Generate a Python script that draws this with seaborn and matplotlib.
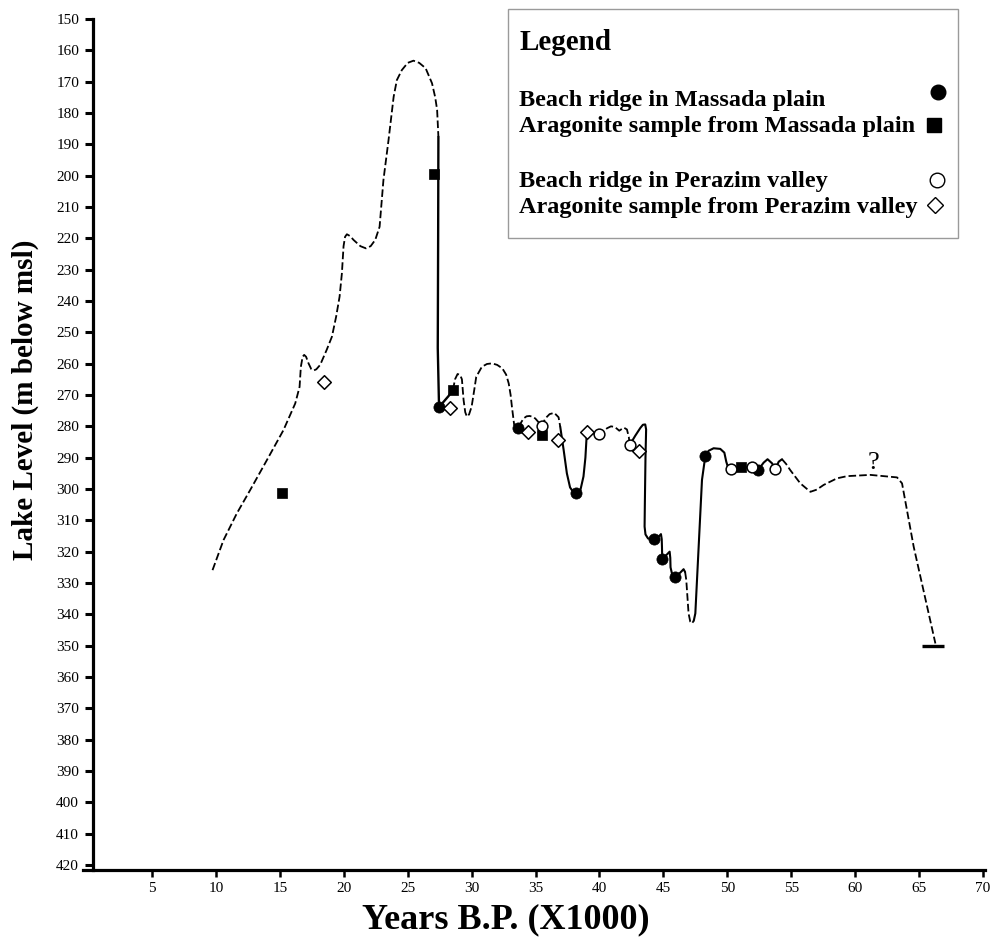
import matplotlib
matplotlib.use("Agg")
import matplotlib.pyplot as plt
import seaborn as sns
from matplotlib.lines import Line2D
from matplotlib.patches import Rectangle

# ---------------- lake-level curve (age in ka BP, level in m below msl) ----------------
# rising limb up to the highstand (inferred, dashed)
limb_rise_age = [9.73, 10.59, 11.63, 12.68, 13.98, 15.28, 16.2, 16.54, 16.64, 16.78, 16.9,
                 17.05, 17.24, 17.45, 17.63, 17.85, 18.15, 18.67, 19.07, 19.4, 19.67, 19.85,
                 19.98, 20.1, 20.24, 20.5, 20.76, 21.3, 21.73, 22.1, 22.46, 22.8, 23.1, 23.5,
                 23.9, 24.15, 24.54, 25.0, 25.45, 25.9, 26.4, 26.9, 27.15, 27.3, 27.4]
limb_rise_level = [325.9, 316.3, 307.8, 300.3, 290.8, 281.2, 272.7, 267.4, 261.0, 257.8, 257.2,
                   257.8, 259.9, 261.7, 262.2, 261.8, 260.4, 255.5, 251.4, 245.0, 238.6, 231.2,
                   222.5, 219.5, 218.7, 219.3, 220.5, 222.5, 223.2, 222.5, 220.5, 216.3, 201.4, 188.6,
                   174.8, 169.5, 166.3, 164.0, 163.3, 164.0, 165.7, 170.5, 175.0, 179.0, 187.6]

# abrupt drop after the highstand (dated, solid)
drop_age = [27.4, 27.38, 27.35, 27.45, 27.8, 28.2, 28.54]
drop_level = [187.6, 220.0, 255.0, 273.8, 272.2, 270.3, 268.4]

# oscillations between 28.5 and 37 ka (dashed)
osc_a_age = [28.54, 28.7, 28.9, 29.1, 29.24, 29.37, 29.5, 29.63, 29.8, 30.0, 30.2, 30.36, 30.8,
             31.2, 31.6, 32.0, 32.4, 32.7, 32.9, 33.05, 33.15, 33.33, 33.6, 34.06, 34.3, 34.53,
             34.75, 34.98, 35.3, 35.5, 35.76, 36.1, 36.46, 36.8, 36.93]
osc_a_level = [268.4, 265.0, 263.3, 263.6, 265.0, 271.6, 275.5, 276.9, 276.2, 273.7, 268.5, 264.2, 261.0,
               260.1, 259.9, 260.4, 261.5, 263.5, 266.3, 270.0, 273.7, 279.6, 280.6, 277.5, 276.8, 276.7,
               276.9, 277.5, 279.0, 279.9, 277.5, 276.1, 275.7, 277.1, 280.1]

# lowstand near 38 ka (solid)
low38_age = [36.93, 37.2, 37.45, 37.7, 38.0, 38.2, 38.5, 38.75, 38.9, 38.97, 39.02]
low38_level = [280.1, 287.6, 295.0, 299.5, 301.3, 301.3, 300.5, 296.0, 290.0, 285.0, 281.7]

# wavy stretch 39-42.5 ka (dashed)
osc_b_age = [39.02, 39.5, 39.98, 40.3, 40.6, 40.9, 41.2, 41.55, 41.9, 42.15, 42.3, 42.36]
osc_b_level = [281.7, 282.3, 282.5, 281.5, 280.6, 280.0, 280.2, 281.4, 280.4, 281.0, 283.5, 286.0]

# stepwise fall 42.5-46.7 ka (solid)
steps_age = [42.36, 42.8, 43.2, 43.4, 43.58, 43.65, 43.6, 43.55, 43.53, 43.6, 43.8, 44.29, 44.63,
             44.81, 44.87, 44.89, 44.91, 45.23, 45.49, 45.54, 45.56, 45.7, 45.93, 46.32, 46.58, 46.7]
steps_level = [286.0, 283.0, 280.5, 279.5, 279.4, 281.0, 290.0, 305.0, 312.0, 314.5, 315.8, 316.1, 315.2,
               314.4, 316.0, 318.5, 322.5, 321.1, 320.0, 322.0, 325.0, 327.5, 328.0, 326.7, 325.6, 326.5]

# deepest lowstand around 47 ka (dashed)
low47_age = [46.7, 46.79, 46.97, 47.1, 47.24, 47.38]
low47_level = [326.5, 329.0, 339.7, 342.3, 342.9, 342.0]

# recovery and 48-54 ka plateau (solid)
plateau_age = [47.38, 47.5, 47.76, 48.02, 48.28, 48.54, 48.93, 49.45, 49.77, 49.92, 50.05, 50.29,
               51.07, 51.93, 52.4, 52.84, 53.15, 53.5, 53.76, 54.02, 54.28]
plateau_level = [342.0, 339.7, 318.4, 297.1, 289.5, 287.8, 287.0, 287.2, 288.4, 291.3, 293.0, 293.7,
                 293.1, 293.1, 294.0, 291.6, 290.5, 291.8, 293.7, 291.3, 290.5]

# older, uncertain part of the record (dashed)
older_age = [54.28, 54.6, 54.93, 55.71, 56.5, 57.0, 57.54, 58.58, 59.37, 61.19, 63.28, 63.67, 64.58, 66.28]
older_level = [290.5, 292.0, 294.0, 298.2, 300.9, 300.2, 298.7, 296.6, 295.9, 295.5, 296.3, 298.2, 318.4, 349.3]

# base of the record
base_age = [65.23, 66.93]
base_level = 350.0

# ---------------- dated samples ----------------
massada_ridge_age = [27.45, 33.6, 38.2, 44.29, 44.91, 45.93, 48.28, 52.4]
massada_ridge_level = [273.8, 280.6, 301.3, 316.1, 322.5, 328.0, 289.5, 294.0]

massada_arag_age = [15.2, 27.02, 28.54, 35.5, 51.07]
massada_arag_level = [301.2, 199.5, 268.4, 282.8, 293.1]

perazim_ridge_age = [35.5, 39.98, 42.36, 50.29, 51.93, 53.76]
perazim_ridge_level = [279.9, 282.5, 286.0, 293.7, 293.1, 293.7]

perazim_arag_age = [18.47, 28.33, 34.4, 36.72, 39.02, 43.06]
perazim_arag_level = [265.8, 274.3, 281.7, 284.4, 281.7, 287.9]

legend_labels = ["Beach ridge in Massada plain",
                 "Aragonite sample from Massada plain",
                 "Beach ridge in Perazim valley",
                 "Aragonite sample from Perazim valley"]

x_ticks = [5, 10, 15, 20, 25, 30, 35, 40, 45, 50, 55, 60, 65, 70]
y_ticks = list(range(150, 421, 10))

# ---------------- style ----------------
sns.set_style("ticks")
plt.rcParams["font.family"] = ["Liberation Serif", "DejaVu Serif"]
plt.rcParams["axes.edgecolor"] = "black"
plt.rcParams["text.color"] = "black"
plt.rcParams["axes.labelcolor"] = "black"
plt.rcParams["xtick.color"] = "black"
plt.rcParams["ytick.color"] = "black"

W, H = 992, 942
fig = plt.figure(figsize=(W / 100, H / 100), dpi=100)
ax = fig.add_axes([93 / W, 1 - 870 / H, (985 - 93) / W, (870 - 19) / H])

DASHED = (0, (4.2, 1.7))
segments = [
    (limb_rise_age, limb_rise_level, DASHED, 1.3),
    (drop_age, drop_level, "-", 1.7),
    (osc_a_age, osc_a_level, DASHED, 1.3),
    (low38_age, low38_level, "-", 1.5),
    (osc_b_age, osc_b_level, DASHED, 1.3),
    (steps_age, steps_level, "-", 1.5),
    (low47_age, low47_level, DASHED, 1.3),
    (plateau_age, plateau_level, "-", 1.5),
    (older_age, older_level, DASHED, 1.3),
]
for xs, ys, ls, lw in segments:
    sns.lineplot(x=xs, y=ys, sort=False, estimator=None, color="black",
                 linestyle=ls, linewidth=lw, ax=ax, zorder=2)

ax.hlines(base_level, base_age[0], base_age[1], color="black", linewidth=2.4, zorder=2)
ax.text(61.45, 295.2, "?", fontsize=19, ha="center", va="bottom", color="black")

sns.scatterplot(x=massada_ridge_age, y=massada_ridge_level, marker="o", s=65,
                color="black", edgecolor="black", linewidth=0.5, ax=ax, zorder=4)
sns.scatterplot(x=massada_arag_age, y=massada_arag_level, marker="s", s=55,
                color="black", edgecolor="black", linewidth=0.5, ax=ax, zorder=4)
sns.scatterplot(x=perazim_ridge_age, y=perazim_ridge_level, marker="o", s=60,
                facecolor="white", edgecolor="black", linewidth=1.1, ax=ax, zorder=4)
sns.scatterplot(x=perazim_arag_age, y=perazim_arag_level, marker="D", s=48,
                facecolor="white", edgecolor="black", linewidth=1.1, ax=ax, zorder=4)

# ---------------- axes ----------------
ax.set_xlim(0.38, 70.16)
ax.set_ylim(421.6, 150)
ax.set_xticks(x_ticks)
ax.set_yticks(y_ticks)
ax.set_xticklabels([str(v) for v in x_ticks])
ax.set_yticklabels([str(v) for v in y_ticks])
for side in ("top", "right"):
    ax.spines[side].set_visible(False)
for side in ("left", "bottom"):
    ax.spines[side].set_linewidth(2.3)
    ax.spines[side].set_color("black")
ax.spines["bottom"].set_bounds(-0.4, 70.16)
ax.tick_params(axis="y", direction="out", length=6, width=2.2, pad=4, labelsize=11,
               colors="black")
ax.tick_params(axis="x", direction="out", length=5, width=1.8, pad=4, labelsize=11,
               colors="black")
ax.grid(False)

ax.set_ylabel("Lake Level (m below msl)", fontsize=21, fontweight="bold", va="center",
              color="black")
ax.yaxis.set_label_coords(-0.0762, 0.552)
ax.set_xlabel("Years B.P. (X1000)", fontsize=26, fontweight="bold", va="center",
              color="black")
ax.xaxis.set_label_coords(0.463, -0.0588)

# ---------------- legend box (text left, symbol column on the right) ----------------
def fx(px):
    return px / W


def fy(py):
    return 1 - py / H


fig.add_artist(Rectangle((fx(508), fy(238)), fx(958) - fx(508), fy(9) - fy(238),
                         transform=fig.transFigure, facecolor="white",
                         edgecolor="#9a9a9a", linewidth=1.0, zorder=5))
fig.text(fx(519), fy(50), "Legend", fontsize=21, fontweight="bold",
         ha="left", va="baseline", color="black", zorder=6)

entry_baselines = [106, 132, 187, 213]
symbol_pos = [(938, 92), (934, 125), (937, 180), (935, 205)]
symbol_styles = [
    dict(marker="o", markersize=10.5, markerfacecolor="black", markeredgecolor="black"),
    dict(marker="s", markersize=9.5, markerfacecolor="black", markeredgecolor="black"),
    dict(marker="o", markersize=10.5, markerfacecolor="white", markeredgecolor="black",
         markeredgewidth=1.0),
    dict(marker="D", markersize=8.5, markerfacecolor="white", markeredgecolor="black",
         markeredgewidth=1.0),
]
for label, base, (sx, sy), style in zip(legend_labels, entry_baselines, symbol_pos, symbol_styles):
    fig.text(fx(519), fy(base), label, fontsize=17.5, fontweight="bold",
             ha="left", va="baseline", color="black", zorder=6)
    fig.add_artist(Line2D([fx(sx)], [fy(sy)], transform=fig.transFigure,
                          linestyle="none", zorder=6, **style))

fig.savefig("out.png", dpi=100, facecolor="white")
